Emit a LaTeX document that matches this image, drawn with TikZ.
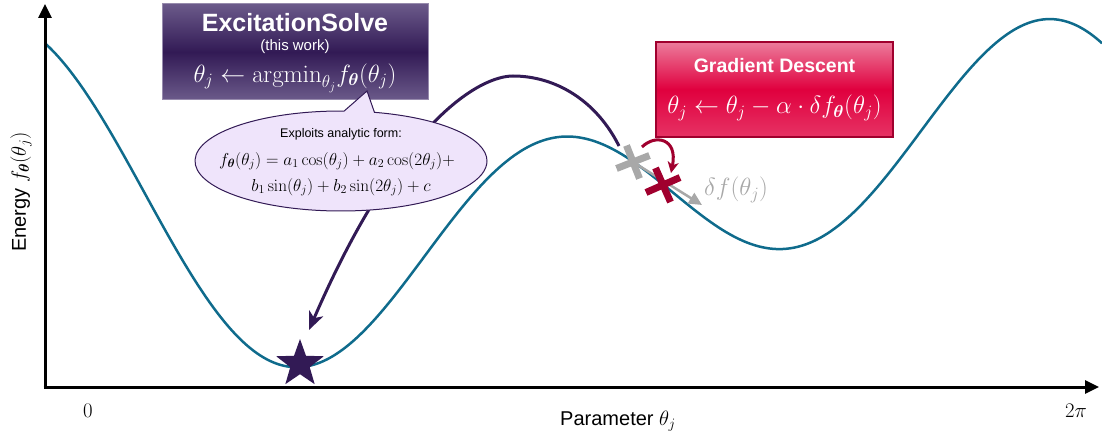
\documentclass[tikz,border=0pt]{standalone}
\usepackage{amsmath}
\usepackage[no-math]{fontspec}
\setmainfont{Liberation Sans}
\usetikzlibrary{shapes.geometric,shapes.callouts,arrows.meta,calc}
\definecolor{teal1}{HTML}{0F6B8C}
\definecolor{purp}{HTML}{321A55}
\definecolor{purplight}{HTML}{6B5A8A}
\definecolor{lav}{HTML}{EFE4FB}
\definecolor{crim}{HTML}{E0003E}
\definecolor{crimlight}{HTML}{EC7C9C}
\definecolor{crimdark}{HTML}{A0002E}
\definecolor{gr}{HTML}{A8A8A8}
\tikzset{
  axis/.style={line width=3pt,-{Triangle[length=14pt,width=13pt]}},
  esbox/.style={draw=purplight!70!white,line width=1pt,minimum width=266pt,minimum height=96pt,
    top color=purplight,bottom color=purplight,middle color=purp},
  gdbox/.style={draw=crimdark,line width=1.2pt,minimum width=237pt,minimum height=95pt,
    top color=crimlight,bottom color=crim!80!white,middle color=crim},
  wtxt/.style={text=white,inner sep=0pt},
  crossg/.style={line width=7pt,draw=gr},
  crossr/.style={line width=7pt,draw=crimdark},
  pfs/.style={font=\fontsize{#1}{#1}\selectfont},
}
\begin{document}
\begin{tikzpicture}[x=1pt,y=-1pt]
\useasboundingbox (0,0) rectangle (1102,441);
% curve: a1 cos + a2 cos2 + b1 sin + b2 sin2 + c over one period
\draw[teal1,line width=2.5pt] plot[domain=0:360,samples=220,smooth]
  ({45+2.936111*\x},{193 - 46.77*cos(\x) + 69.86*sin(\x) - 103*cos(2*\x) + 41.75*sin(2*\x)});
% axes
\coordinate (O) at (45,387);
\coordinate (Ytop) at (45,4);
\coordinate (Xend) at (1099,387);
\draw[axis] (O) -- (Ytop);
\draw[axis] ([xshift=-1.5pt]O) -- (Xend);
\node[pfs=22] (zero) at (88,411) {$0$};
\node[pfs=22] (twopi) at (1076,411) {$2\pi$};
\node[pfs=20] (xlab) at (618,421) {Parameter $\theta_j$};
\node[pfs=20,rotate=90] (ylab) at (21,192) {Energy $f_{\boldsymbol{\theta}}(\theta_j)$};
% star
\node[star,star points=5,star point ratio=2.45,minimum size=50pt,inner sep=0pt,fill=purp] (star) at (300,364) {};
% crosses
\coordinate (g) at (633,162);
\coordinate (r) at (663,185);
\coordinate (gtip) at (702,205);
\draw[gr,line width=2.5pt,-{Triangle[length=13pt,width=12pt]}] (g) -- (gtip);
\draw[crossg] ($(g)+(-16.5,6.5)$) -- ($(g)+(16.5,-6.5)$);
% purple arc
\coordinate (as) at (619,146);
\coordinate (ae) at (309,330);
\draw[purp,line width=3pt,-{Stealth[length=18pt,width=15pt,inset=5pt]}] (as) .. controls (596,100) and (555,76) .. (513,76) .. controls (480,76) and (400,120) .. (ae);
% ES box
\node[esbox] (es) at (295,52) {};
\node[wtxt,pfs=25] (estitle) at (295,23) {\bfseries ExcitationSolve};
\node[wtxt,pfs=15] (eswork) at (295,47) {(this work)};
\node[wtxt,pfs=23] (esmath) at (295,78) {$\theta_j \leftarrow \mathrm{argmin}_{\theta_j} f_{\boldsymbol{\theta}}(\theta_j)$};
% callout
\node[ellipse callout,draw=purp,line width=1pt,fill=lav,minimum width=292pt,minimum height=100pt,
  callout absolute pointer={(367,91)},callout pointer arc=12] (call) at (341,161) {};
\node[pfs=12.5,inner sep=0pt] (ex1) at (341,134) {Exploits analytic form:};
\node[pfs=17,inner sep=0pt] (ex2) at (337,161) {$f_{\boldsymbol{\theta}}(\theta_j) = a_1\cos(\theta_j) + a_2\cos(2\theta_j) +$};
\node[pfs=17,inner sep=0pt] (ex3) at (341,187) {$b_1\sin(\theta_j) + b_2\sin(2\theta_j) + c$};
% GD box
\node[gdbox] (gd) at (774.5,89.5) {};
\node[wtxt,pfs=19.5] (gdtitle) at (774.5,66) {\bfseries Gradient Descent};
\node[wtxt,pfs=23] (gdmath) at (774.5,108) {$\theta_j \leftarrow \theta_j - \alpha\cdot\delta f_{\boldsymbol{\theta}}(\theta_j)$};
% red step arrow
\coordinate (rs) at (642,147);
\coordinate (re) at (671,173);
\draw[crimdark,line width=3pt,-{Stealth[length=11pt,width=11pt,inset=3pt]}] (rs) .. controls (655,134) and (678,138) .. (re);
\draw[crossg] ($(g)+(-6.5,-16.5)$) -- ($(g)+(6.5,16.5)$);
\draw[crossr] ($(r)+(-17,7.5)$) -- ($(r)+(17,-7.5)$);
\draw[crossr] ($(r)+(-7.5,-17)$) -- ($(r)+(7.5,17)$);
\node[gr,pfs=23,anchor=west,inner sep=0pt] (dlab) at (704,190) {$\delta f(\theta_j)$};
\end{tikzpicture}
\end{document}
